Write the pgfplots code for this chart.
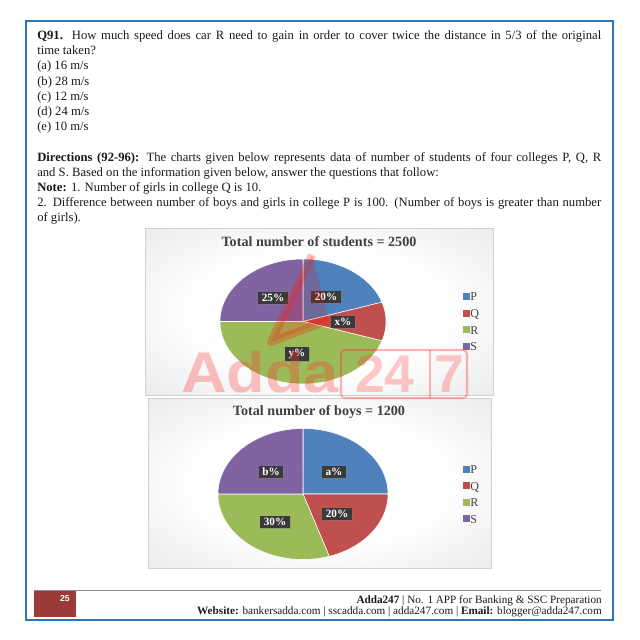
\documentclass[border=0pt]{standalone}
\usepackage{fontspec}
\setmainfont{Liberation Serif}
\setsansfont{Liberation Sans}
\usepackage{pgfplots}
\pgfplotsset{compat=1.18}
\usetikzlibrary{shadows}
\definecolor{pP}{HTML}{4F81BD}
\definecolor{pQ}{HTML}{C0504D}
\definecolor{pR}{HTML}{9BBB59}
\definecolor{pS}{HTML}{8064A2}
\definecolor{bord}{HTML}{2E75B6}
\definecolor{lblgray}{HTML}{3A3A3A}
\definecolor{ttl}{HTML}{404040}
\definecolor{footred}{HTML}{9B3A37}
\definecolor{bodytxt}{HTML}{1A1A1A}
\pgfdeclareradialshading{chartbg}{\pgfpoint{0bp}{0bp}}{color(0bp)=(white); color(18bp)=(white); color(72bp)=(black!24)}
\newcommand{\bodyfont}{\fontsize{9.5}{11}\selectfont}
\newcommand{\lbl}[3]{\node[fill=lblgray, text=white, font=\fontsize{8.4}{9}\selectfont\bfseries, inner xsep=2.6pt, inner ysep=1.8pt, drop shadow={shadow xshift=0.8pt, shadow yshift=-0.8pt, opacity=0.45}] at (#1,#2) {#3};}
\pgfplotsset{
  piestyle/.style={hide axis, scale only axis, clip=false,
    xmin=-1, xmax=1, ymin=-1, ymax=1, anchor=south west,
    legend cell align=left,
    legend image code/.code={\fill[##1, draw=none] (0pt,-2.5pt) rectangle (5pt,2.5pt);},
    legend style={draw=none, fill=none, anchor=center, text=ttl,
      font=\fontsize{9}{10}\selectfont, row sep=4.8pt,
      nodes={inner sep=0.6pt, text height=6.4pt, text depth=0pt}}},
  slice/.style={fill=#1, draw=white, line width=0.4pt, samples=60, variable=\t}
}
\begin{document}
\begin{tikzpicture}[x=0.75pt, y=-0.75pt]
\path[fill=white, use as bounding box] (0,0) rectangle (640,640);
\coordinate (pieA) at (220,384);
\coordinate (pieB) at (218,559.5);
% page border
\draw[bord, line width=1.6pt] (26,21) rectangle (613,620);
% body text
\begin{scope}[every node/.style={anchor=base west, inner sep=0pt, font=\bodyfont, text=bodytxt}]
\node at (37,39.5) {\makebox[423pt][s]{\textbf{Q91.} How much speed does car R need to gain in order to cover twice the distance in 5/3 of the original}};
\node at (37,54.7) {time taken?};
\node at (37,69.9) {(a) 16 m/s};
\node at (37,85.1) {(b) 28 m/s};
\node at (37,100.3) {(c) 12 m/s};
\node at (37,115.5) {(d) 24 m/s};
\node at (37,130.7) {(e) 10 m/s};
\node at (37,161.1) {\makebox[423pt][s]{\textbf{Directions (92-96):} The charts given below represents data of number of students of four colleges P, Q, R}};
\node at (37,176.3) {and S. Based on the information given below, answer the questions that follow:};
\node at (37,191.5) {\textbf{Note:} 1. Number of girls in college Q is 10.};
\node at (37,206.7) {\makebox[423pt][s]{2. Difference between number of boys and girls in college P is 100. (Number of boys is greater than number}};
\node at (37,221.9) {of girls).};
\end{scope}
% chart backgrounds
\shade[shading=chartbg] (145,228) rectangle (493,395);
\draw[black!18, line width=0.4pt] (145,228) rectangle (493,395);
\shade[shading=chartbg] (148,398) rectangle (491,568);
\draw[black!18, line width=0.4pt] (148,398) rectangle (491,568);
% titles
\node[font=\fontsize{10.6}{12}\selectfont\bfseries, text=ttl] at (319,242) {Total number of students = 2500};
\node[font=\fontsize{10.6}{12}\selectfont\bfseries, text=ttl] at (319,412) {Total number of boys = 1200};
% pie 1: P 20, Q x=10, R y=45, S 25 (cumulative percent bounds)
\begin{axis}[piestyle, at={(pieA)}, width=124.5pt, height=93.75pt,
  legend style={at={(1.515,0.5)}}]
\addplot[slice=pP, domain=0:20] ({cos(90-3.6*\t)},{sin(90-3.6*\t)}) -- (axis cs:0,0) -- cycle;
\addlegendentry{P}
\addplot[slice=pQ, domain=20:30] ({cos(90-3.6*\t)},{sin(90-3.6*\t)}) -- (axis cs:0,0) -- cycle;
\addlegendentry{Q}
\addplot[slice=pR, domain=30:75] ({cos(90-3.6*\t)},{sin(90-3.6*\t)}) -- (axis cs:0,0) -- cycle;
\addlegendentry{R}
\addplot[slice=pS, domain=75:100] ({cos(90-3.6*\t)},{sin(90-3.6*\t)}) -- (axis cs:0,0) -- cycle;
\addlegendentry{S}
\end{axis}
% pie 2: P a=25, Q 20, R 30, S b=25
\begin{axis}[piestyle, at={(pieB)}, width=127.5pt, height=98.25pt,
  legend style={at={(1.49,0.5)}}]
\addplot[slice=pP, domain=0:25] ({cos(90-3.6*\t)},{sin(90-3.6*\t)}) -- (axis cs:0,0) -- cycle;
\addlegendentry{P}
\addplot[slice=pQ, domain=25:45] ({cos(90-3.6*\t)},{sin(90-3.6*\t)}) -- (axis cs:0,0) -- cycle;
\addlegendentry{Q}
\addplot[slice=pR, domain=45:75] ({cos(90-3.6*\t)},{sin(90-3.6*\t)}) -- (axis cs:0,0) -- cycle;
\addlegendentry{R}
\addplot[slice=pS, domain=75:100] ({cos(90-3.6*\t)},{sin(90-3.6*\t)}) -- (axis cs:0,0) -- cycle;
\addlegendentry{S}
\end{axis}
% data labels
\lbl{273}{298}{25\%}
\lbl{326}{297}{20\%}
\lbl{343}{322}{x\%}
\lbl{297}{354}{y\%}
\lbl{271}{472}{b\%}
\lbl{334}{472}{a\%}
\lbl{337}{514}{20\%}
\lbl{275}{522}{30\%}
% watermark
\fill[red, opacity=0.18] (312,255) -- (271,342) -- (329,320) -- cycle;
\draw[red!80!orange, opacity=0.28, line width=6pt, line join=round] (312,255) -- (271,342) -- (329,320);
\node[anchor=base west, inner sep=0pt, text=red!80, opacity=0.3, font=\fontsize{43}{43}\selectfont\sffamily\bfseries, xscale=1.1] at (181,392) {Adda};
\draw[red!85, opacity=0.35, line width=1.6pt, rounded corners=3pt] (341,350) rectangle (467,398);
\draw[red!85, opacity=0.35, line width=1.6pt] (430,350) -- (430,398);
\node[text=red!85, opacity=0.25, font=\fontsize{40}{40}\selectfont\sffamily\bfseries] at (385,374) {24};
\node[text=red!85, opacity=0.25, font=\fontsize{40}{40}\selectfont\sffamily\bfseries] at (449,374) {7};
% footer
\draw[black!45, line width=0.5pt] (34,590) -- (601,590);
\fill[footred] (34,590.5) rectangle (76,617);
\node[text=white, font=\fontsize{6.5}{7}\selectfont\sffamily\bfseries] at (65,599) {25};
\node[anchor=base east, inner sep=0pt, font=\fontsize{8.4}{10}\selectfont, text=bodytxt] at (602,603) {\textbf{Adda247} | No. 1 APP for Banking \& SSC Preparation};
\node[anchor=base east, inner sep=0pt, font=\fontsize{8.4}{10}\selectfont, text=bodytxt] at (602,614.5) {\textbf{Website:} bankersadda.com | sscadda.com | adda247.com | \textbf{Email:} blogger@adda247.com};
\end{tikzpicture}
\end{document}
